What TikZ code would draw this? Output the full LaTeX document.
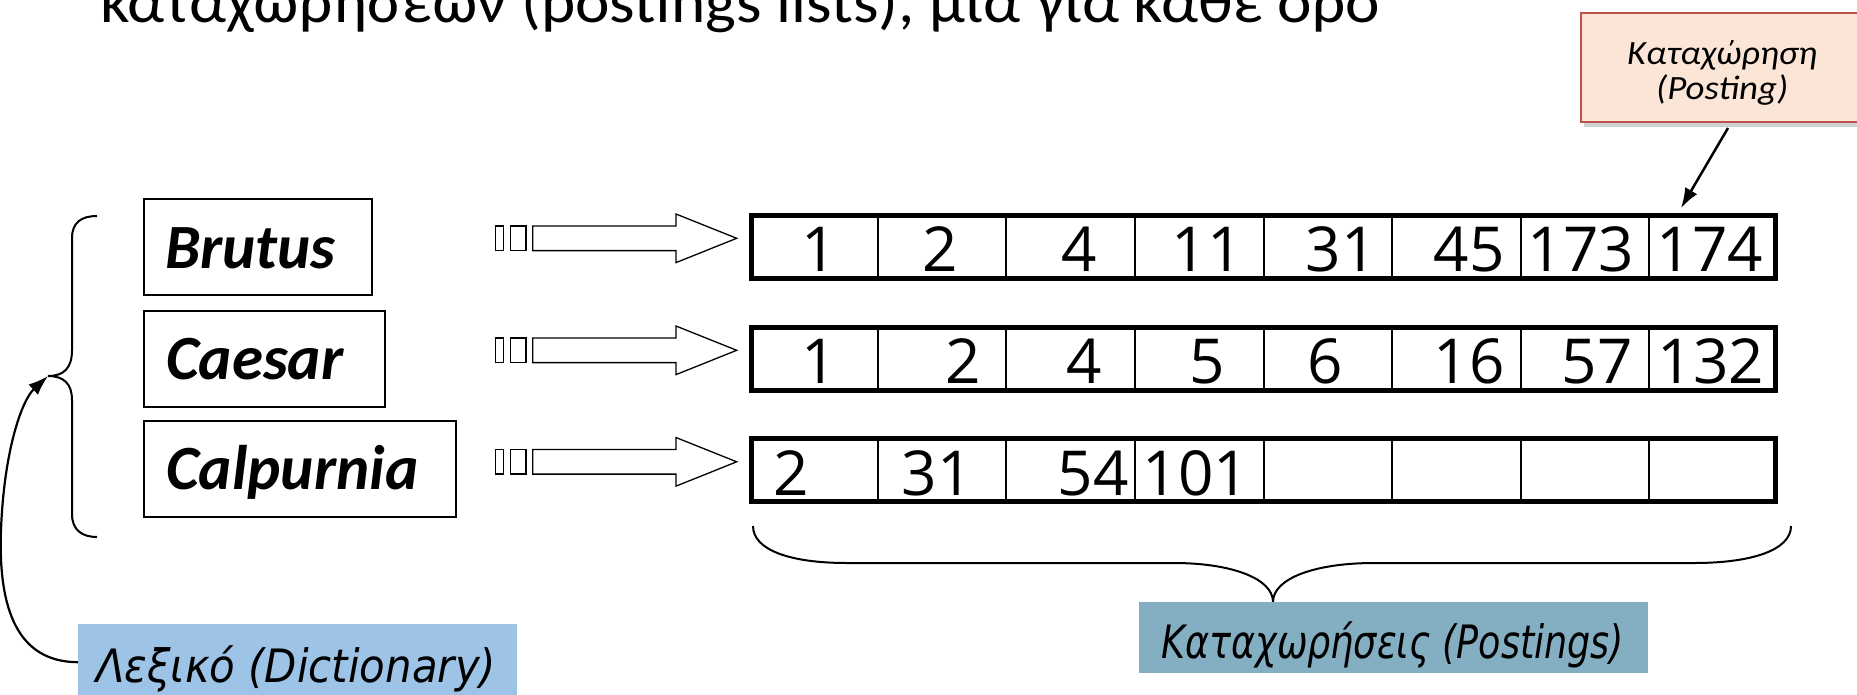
\documentclass[tikz,border=0pt]{standalone}
\usepackage{fontspec}
\usepackage{graphicx}
\setmainfont{Carlito}
\newfontfamily\numfont{Open Sans}
\newfontfamily\lblfont{DejaVu Sans}
\usetikzlibrary{arrows.meta}
\definecolor{dictblue}{HTML}{9DC3E6}
\definecolor{postblue}{HTML}{84AFC2}
\definecolor{peach}{HTML}{FBE5D6}
\definecolor{redline}{HTML}{C0504D}
\tikzset{
  termframe/.style={draw=black, line width=2pt},
  termtext/.style={anchor=base west, inner sep=0pt, font=\fontsize{63}{70}\selectfont\bfseries\itshape},
  num/.style={anchor=base, inner sep=0pt, font=\numfont\fontsize{62}{70}\selectfont},
  outerrow/.style={draw=black, line width=5pt},
  divider/.style={draw=black, line width=2pt},
  smallbox/.style={draw=black, line width=1.3pt},
  blockarrow/.style={draw=black, fill=white, line width=1.3pt},
  brace/.style={draw=black, line width=2pt},
  pointer/.style={draw=black, line width=2.5pt, -{Latex[length=20pt,width=14pt]}},
  lbltext/.style={anchor=base west, inner sep=0pt},
  calltext/.style={anchor=base west, inner sep=0pt, font=\itshape\fontsize{34}{40}\selectfont},
}
\begin{document}
\begin{tikzpicture}[x=1pt,y=-1pt]
\useasboundingbox (0,0) rectangle (1857,694);
\clip (0,0) rectangle (1857,694);
\fill[white] (0,0) rectangle (1857,694);

% title (cut off at the top)
\node[anchor=base west, inner sep=0pt] (title) at (100,22)
  {\resizebox{1280pt}{\height}{\fontsize{60}{72}\selectfont καταχωρήσεων (postings lists), μία για κάθε όρο}};

% callout
\fill[black!18] (1584,18) rectangle (1870,127);
\node[draw=redline, fill=peach, line width=1.5pt, minimum width=290pt, minimum height=109pt, anchor=north west, inner sep=0pt] (callout) at (1580,12) {};
\node[calltext] (ct1) at (1627,64) {\resizebox{190pt}{\height}{Καταχώρηση}};
\node[calltext] (ct2) at (1656,99) {\resizebox{132pt}{\height}{(Posting)}};
\coordinate (cfrom) at (1728,128);
\coordinate (c174) at (1681,208);
\draw[pointer] (cfrom) -- (c174);

% dictionary terms
\draw[termframe] (144,199) rectangle (372,295);
\node[termtext] (brutus) at (165,268) {Brutus};
\draw[termframe] (144,311) rectangle (385,407);
\node[termtext] (caesar) at (166,379) {Caesar};
\draw[termframe] (144,421) rectangle (456,517);
\node[termtext] (calpurnia) at (166,489) {Calpurnia};

% small boxes and block arrows
\foreach \c/\nm in {238.3/a1, 350.3/a2, 461.8/a3}{
  \draw[smallbox] (495.3,\c-12.3) rectangle (503.3,\c+12.3);
  \draw[smallbox] (510.7,\c-12.3) rectangle (526,\c+12.3);
  \draw[blockarrow] (532.7,\c-12.3) -- (676,\c-12.3) -- (676,\c-24.3) -- (736.7,\c)
     -- (676,\c+24.3) -- (676,\c+12.3) -- (532.7,\c+12.3) -- cycle;
}

% postings rows
\foreach \T in {213,325,436}{
  \foreach \k in {1,...,7}{
    \draw[divider] (749+128.625*\k,\T) -- (749+128.625*\k,\T+68);
  }
  \draw[outerrow] (751.5,\T+2.5) rectangle (1775.5,\T+65.5);
}
\foreach \x/\n in {819/1, 940/2, 1079/4, 1207/11, 1341/31, 1469/45, 1581/173, 1710/174}{
  \node[num] at (\x,271) {\n};
}
\foreach \x/\n in {819/1, 963/2, 1084/4, 1207/5, 1325/6, 1469/16, 1597/57, 1711/132}{
  \node[num] at (\x,383) {\n};
}
\foreach \x/\n in {791/2, 937/31, 1093/54, 1196/101}{
  \node[num] at (\x,495) {\n};
}

% left brace
\draw[brace] (97,216) .. controls (82,216) and (72,222) .. (72,238) -- (72,350)
  .. controls (72,368) and (64,376) .. (48,376)
  .. controls (64,376) and (72,384) .. (72,400) -- (72,514)
  .. controls (72,530) and (82,537) .. (97,537);
\coordinate (bracetip) at (48,376);

% bottom brace
\draw[brace] (753,526) .. controls (753,550) and (790,563) .. (847,563) -- (1174,563)
  .. controls (1230,563) and (1273,578) .. (1273,602);
\draw[brace] (1273,602) .. controls (1273,578) and (1316,563) .. (1374,563) -- (1694,563)
  .. controls (1752,563) and (1791,550) .. (1791,526);

% labels
\node[fill=postblue, minimum width=509pt, minimum height=71pt, inner sep=0pt, anchor=north west] (postlbl) at (1139,602) {};
\node[lbltext] (posttxt) at (1161,658)
  {\resizebox{463pt}{\height}{\lblfont\itshape\fontsize{46}{55}\selectfont Καταχωρήσεις (Postings)}};
\node[fill=dictblue, minimum width=439pt, minimum height=76pt, inner sep=0pt, anchor=north west] (dictlbl) at (78,624) {};
\node[lbltext] (dicttxt) at (96,682)
  {\resizebox{400pt}{\height}{\lblfont\itshape\fontsize{46}{55}\selectfont Λεξικό (Dictionary)}};

% dictionary pointer
\draw[pointer, line width=2.2pt] (dictlbl.west) .. controls (18,662) and (-2,610) .. (1,530)
  .. controls (4,450) and (22,400) .. (bracetip);
\end{tikzpicture}
\end{document}
